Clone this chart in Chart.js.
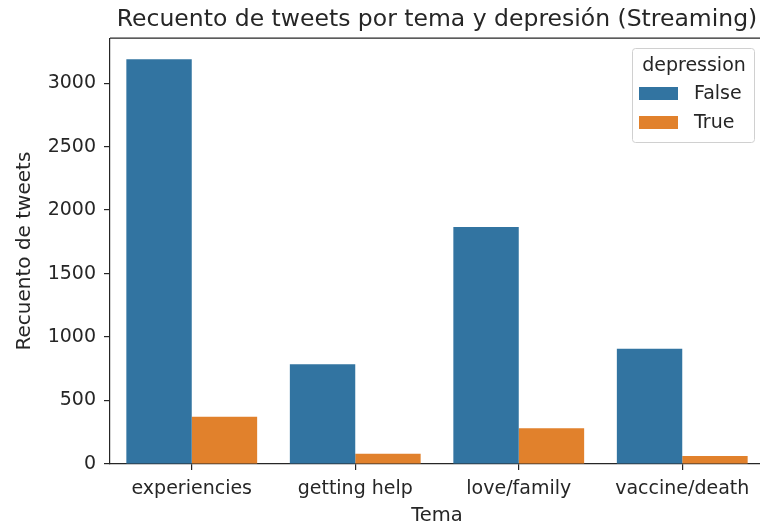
<!DOCTYPE html>
<html>
<head>
<meta charset="utf-8">
<script src="https://cdn.jsdelivr.net/npm/chart.js@4/dist/chart.umd.min.js"></script>
<style>
  html, body { margin: 0; padding: 0; background: #fff; overflow: hidden; }
  #wrap { width: 766px; height: 526px; }
</style>
</head>
<body>
<div id="wrap"><canvas id="grafico" width="766" height="526"></canvas></div>
<script>
// datos
const temas = ['experiencies', 'getting help', 'love/family', 'vaccine/death'];
const valoresFalse = [3189, 785, 1866, 908];
const valoresTrue = [372, 80, 281, 64];
const ticksY = [0, 500, 1000, 1500, 2000, 2500, 3000];

const azul = '#3274a1';
const naranja = '#e1812c';
const colorTexto = '#262626';
const fuente = 'DejaVu Sans';

// marco completo (spines arriba y derecha) + leyenda estilo seaborn
const marcoYLeyenda = {
    id: 'marcoYLeyenda',
    afterDraw(chart) {
        const ctx = chart.ctx;
        const a = chart.chartArea;
        ctx.save();
        ctx.strokeStyle = '#262626';
        ctx.lineWidth = 1.2;
        ctx.beginPath();
        ctx.moveTo(a.left, a.top);
        ctx.lineTo(a.right, a.top);
        ctx.lineTo(a.right, a.bottom);
        ctx.stroke();

        // leyenda
        const x = 632, y = 48, w = 122, h = 94;
        ctx.fillStyle = 'rgba(255,255,255,0.8)';
        ctx.strokeStyle = '#d0d0d0';
        ctx.lineWidth = 1;
        ctx.beginPath();
        ctx.roundRect(x + 0.5, y + 0.5, w, h, 3);
        ctx.fill();
        ctx.stroke();

        ctx.fillStyle = colorTexto;
        ctx.font = '19px "' + fuente + '"';
        ctx.textBaseline = 'middle';
        ctx.textAlign = 'center';
        ctx.fillText('depression', x + w / 2 + 1, y + 18);

        chart.data.datasets.forEach((ds, i) => {
            const py = y + 39 + i * 29;
            ctx.fillStyle = ds.backgroundColor;
            ctx.fillRect(x + 7, py, 39, 13);
            ctx.fillStyle = colorTexto;
            ctx.textAlign = 'left';
            ctx.fillText(ds.label, x + 62, py + 7);
        });
        ctx.restore();
    }
};

new Chart(document.getElementById('grafico'), {
    type: 'bar',
    data: {
        labels: temas,
        datasets: [
            { label: 'False', data: valoresFalse, backgroundColor: azul, borderWidth: 0 },
            { label: 'True', data: valoresTrue, backgroundColor: naranja, borderWidth: 0 }
        ]
    },
    options: {
        responsive: false,
        animation: false,
        layout: { padding: { top: 0, right: 2, bottom: 0, left: 0 } },
        datasets: { bar: { categoryPercentage: 0.8, barPercentage: 1.0 } },
        plugins: {
            legend: { display: false },
            tooltip: { enabled: false },
            title: {
                display: true,
                fullSize: false,
                text: 'Recuento de tweets por tema y depresión (Streaming)',
                color: colorTexto,
                font: { family: fuente, size: 23.5, weight: 'normal' },
                padding: { top: 6, bottom: 4 }
            }
        },
        scales: {
            x: {
                offset: true,
                grid: { display: true, drawOnChartArea: false, offset: false, tickLength: 6, color: '#262626', lineWidth: 1.2 },
                border: { display: true, color: '#262626', width: 1.2 },
                ticks: { color: colorTexto, font: { family: fuente, size: 19 }, padding: 8, maxRotation: 0 },
                title: { display: true, text: 'Tema', color: colorTexto, font: { family: fuente, size: 19.5 }, padding: { top: 0, bottom: -2 } },
                afterFit(s) { s.height = 62; }
            },
            y: {
                min: 0,
                max: 3354,
                afterBuildTicks(s) { s.ticks = ticksY.map(v => ({ value: v })); },
                grid: { display: true, drawOnChartArea: false, tickLength: 6, color: '#262626', lineWidth: 1.2 },
                border: { display: true, color: '#262626', width: 1.2 },
                ticks: { color: colorTexto, font: { family: fuente, size: 19 }, padding: 8, callback: v => String(v) },
                title: { display: true, text: 'Recuento de tweets', color: colorTexto, font: { family: fuente, size: 20 }, padding: { top: 13, bottom: 0 } },
                afterFit(s) { s.width = 110; }
            }
        }
    },
    plugins: [marcoYLeyenda]
});
</script>
</body>
</html>
